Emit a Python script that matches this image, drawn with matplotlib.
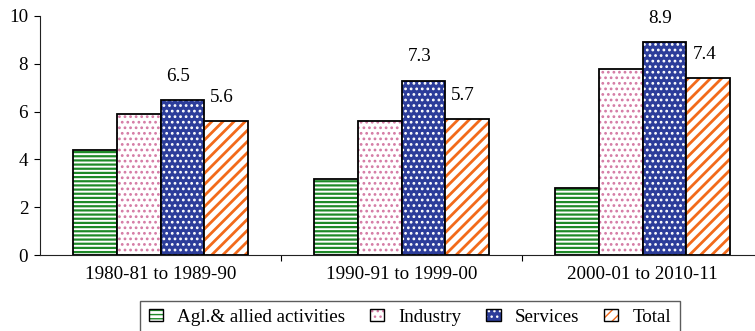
import numpy as np
import matplotlib
matplotlib.use("Agg")
import matplotlib.pyplot as plt
from matplotlib.patches import Patch

plt.rcParams['font.family'] = ['Liberation Serif', 'DejaVu Serif']
plt.rcParams['font.size'] = 13.7

periods = ['1980-81 to 1989-90', '1990-91 to 1999-00', '2000-01 to 2010-11']
sectors = ['Agl.& allied activities', 'Industry', 'Services', 'Total']
agl = [4.4, 3.2, 2.8]
industry = [5.9, 5.6, 7.8]
services = [6.5, 7.3, 8.9]
total = [5.6, 5.7, 7.4]

# face colour, hatch, hatch colour, hatch line width
styles = [
    ('white', '----', '#1e8a28', 1.6),
    ('white', '...', '#d47aa4', 1.2),
    ('#2c3d9a', '...', 'white', 1.2),
    ('white', '///', '#f26a1b', 2.0),
]

fig = plt.figure(figsize=(7.55, 3.31), dpi=100)
ax = fig.add_axes([40 / 755, 76 / 331, 723 / 755, 239 / 331])

x = np.arange(len(periods))
w = 0.182
series = [agl, industry, services, total]
bars = []
handles = []
for i, (vals, (fc, hatch, hc, lw)) in enumerate(zip(series, styles)):
    pos = x + (i - 1.5) * w
    with plt.rc_context({'hatch.linewidth': lw, 'hatch.color': hc}):
        ax.bar(pos, vals, w, color=fc, hatch=hatch, edgecolor=hc, linewidth=0)
        fill = Patch(facecolor=fc, hatch=hatch, edgecolor=hc, linewidth=0)
    b = ax.bar(pos, vals, w, fill=False, edgecolor='black', linewidth=1.3)
    bars.append(b)
    handles.append((fill, Patch(fill=False, edgecolor='black', linewidth=1.0)))

# values shown above the services and total bars
for b, vals in zip(bars[2:], series[2:]):
    for rect, v in zip(b, vals):
        ax.annotate(f'{v:.1f}', (rect.get_x() + rect.get_width() / 2, v),
                    xytext=(-3, 17), textcoords='offset points',
                    ha='center', va='center')

ax.set_xlim(-0.5, 2.5)
ax.set_ylim(0, 10)
ax.set_yticks(range(0, 11, 2))
ax.set_xticks([0.5, 1.5])
ax.set_xticklabels([])
ax.set_xticks(x, minor=True)
ax.set_xticklabels(periods, minor=True)
ax.tick_params(axis='x', which='minor', length=0, pad=8)
ax.tick_params(axis='x', which='major', length=4, direction='out')
ax.tick_params(axis='y', length=4.5, direction='out', pad=4)
for s in ['top', 'right']:
    ax.spines[s].set_visible(False)
ax.spines['left'].set_color('#222222')
ax.spines['bottom'].set_color('#222222')

leg = fig.legend(handles, sectors, loc='lower center', ncol=4,
                 bbox_to_anchor=(0.543, -0.04), frameon=True, fancybox=False,
                 edgecolor='#333333', handlelength=0.75, handleheight=0.6,
                 columnspacing=1.3, handletextpad=0.75, borderpad=0.45)
leg.get_frame().set_linewidth(1.0)

fig.savefig('out.png', dpi=100)
